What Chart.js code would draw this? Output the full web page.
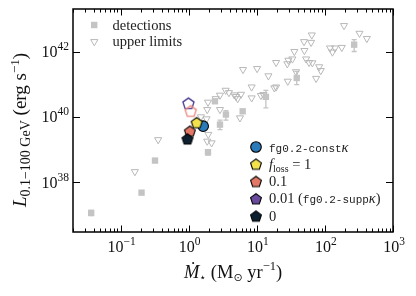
<!DOCTYPE html>
<html lang="en">
<head>
<meta charset="UTF-8">
<title>Gamma-ray luminosity vs star formation rate</title>
<script src="https://cdn.jsdelivr.net/npm/chart.js"></script>
<style>
  html, body { margin: 0; padding: 0; background: #fff; }
  canvas { display: block; }
</style>
</head>
<body>
<canvas id="lumChart" width="416" height="296"></canvas>
<script>
// observed galaxies, detections (luminosity with lower / upper error bar ends)
const detSfr    = [0.037, 0.203, 0.32, 1.92, 2.43, 2.88, 3.52, 6.2, 13.6, 38.6, 269];
const detLum    = [1.15e37, 4.8e37, 4.6e38, 8.3e38, 3.0e40, 5.8e39, 1.18e40, 1.48e40, 4.1e40, 1.55e41, 1.62e42];
const detLumLo  = [9.6e36, null, null, 6.8e38, null, 4.1e39, 7.9e39, null, 1.88e40, 9.7e40, 1.0e42];
const detLumHi  = [1.38e37, null, null, 9.6e38, null, 7.9e39, 1.56e40, null, 6.5e40, 2.46e41, 2.3e42];

// observed galaxies, upper limits
const ulSfr = [0.162, 0.356, 1.51, 1.94, 1.87, 2.17, 1.92, 1.87, 1.83, 2.49, 2.88, 2.88, 3.49, 3.9,
               4.67, 4.94, 5.24, 5.86, 5.66, 6.27, 8.4, 8.4, 10.1, 11.5, 12.5, 14.8, 18.1, 19.2,
               19.2, 28.1, 29.1, 33.3, 28.5, 35.6, 37.7, 49.4, 50, 62.7, 64.2, 53, 58.6, 65.5,
               74.3, 82.3, 87, 119, 129, 141, 177, 191, 322, 413];
const ulLum = [2.1e38, 2.0e39, 1.0e40, 2.9e39, 1.8e39, 1.6e39, 2.8e40, 1.67e40, 8.7e39, 3.6e40, 4.6e40, 1.67e40, 6.5e40, 5.5e40,
               4.7e40, 4.2e40, 3.6e40, 4.9e40, 9.3e39, 2.8e41, 8.2e40, 3.8e40, 3.0e41, 4.5e40, 4.8e40, 1.8e41, 7.7e40, 8.2e40,
               4.6e41, 4.2e41, 5.4e41, 5.9e41, 1.23e41, 1.0e42, 2.4e41, 2.0e42, 1.07e42, 1.9e42, 3.2e42, 5.9e41, 4.6e41, 4.5e41,
               1.5e41, 3.4e41, 2.6e41, 1.28e42, 9.6e41, 1.28e42, 1.33e42, 6.2e42, 3.6e42, 2.5e42];

// simulation runs (filled markers, plus open markers for two of them)
const runSfr  = [1.63, 1.31, 1.04, null, 0.96];
const runLum  = [5.2e39, 6.6e39, 3.6e39, null, 2.1e39];
const openSfr = [null, null, 1.07, 0.99, null];
const openLum = [null, null, 1.5e40, 2.6e40, null];

// axes
const xMin = 0.02, xMax = 1000, yMin = 3e36, yMax = 2e43;
const xTickExp = [-1, 0, 1, 2, 3];
const yTickExp = [38, 40, 42];

const runFill = ['#2b7bba', '#f3e24c', '#e37866', '#6a4a9c', '#0e2030'];
const runOpenEdge = [null, null, '#ec8a80', '#4a3f90', null];
const grey = '#c4c4c4';
const SERIF = '"Liberation Serif", "DejaVu Serif", serif';
const MONO = '"Liberation Mono", "DejaVu Sans Mono", monospace';

function pentagon(r, fill, stroke, lw) {
  const c = document.createElement('canvas');
  const s = Math.ceil(2 * (r + lw)) + 2;
  c.width = s; c.height = s;
  const g = c.getContext('2d');
  g.beginPath();
  for (let k = 0; k < 5; k++) {
    const a = -Math.PI / 2 + k * 2 * Math.PI / 5;
    const px = s / 2 + r * Math.cos(a), py = s / 2 + r * Math.sin(a) + 0.4;
    k ? g.lineTo(px, py) : g.moveTo(px, py);
  }
  g.closePath();
  if (fill) { g.fillStyle = fill; g.fill(); }
  g.lineWidth = lw; g.strokeStyle = stroke; g.stroke();
  return c;
}

const filledMarks = runFill.map((c, i) => i === 0 ? 'circle' : pentagon(5.7, c, '#000', 1.1));

const datasets = [];
runSfr.forEach((x, i) => {
  if (x === null) return;
  datasets.push({
    data: [{ x: x, y: runLum[i] }],
    pointStyle: filledMarks[i],
    pointRadius: 5.3,
    pointBackgroundColor: runFill[i],
    pointBorderColor: '#000',
    pointBorderWidth: 1.1,
    order: 10 - i
  });
});
openSfr.forEach((x, i) => {
  if (x === null) return;
  datasets.push({
    data: [{ x: x, y: openLum[i] }],
    pointStyle: pentagon(5.8, null, runOpenEdge[i], 1.4),
    pointRadius: 6,
    order: 12
  });
});
datasets.push({
  data: detSfr.map((x, i) => ({ x: x, y: detLum[i] })),
  pointStyle: 'rect',
  pointRadius: 4.5,
  pointBackgroundColor: grey,
  pointBorderColor: grey,
  pointBorderWidth: 0,
  order: 20
});
datasets.push({
  data: ulSfr.map((x, i) => ({ x: x, y: ulLum[i] })),
  pointStyle: 'triangle',
  pointRotation: 180,
  pointRadius: 4.1,
  pointBackgroundColor: 'rgba(255,255,255,0)',
  pointBorderColor: '#b8b8b8',
  pointBorderWidth: 1,
  order: 21
});

function richWidth(ctx, segs) {
  let w = 0;
  segs.forEach(s => { ctx.font = s.f; w += ctx.measureText(s.t).width; });
  return w;
}
function drawRich(ctx, segs, x, y) {
  segs.forEach(s => {
    ctx.font = s.f;
    ctx.fillText(s.t, x, y + (s.dy || 0));
    x += ctx.measureText(s.t).width;
  });
}
function powSegs(e) {
  const t = e < 0 ? '\u2212' + (-e) : String(e);
  return [{ t: '10', f: '16px ' + SERIF }, { t: t, f: '11.5px ' + SERIF, dy: -7 }];
}

const errorBars = {
  id: 'errorBars',
  beforeDatasetsDraw(chart) {
    const ctx = chart.ctx, xs = chart.scales.x, ys = chart.scales.y;
    ctx.save();
    ctx.strokeStyle = grey;
    ctx.lineWidth = 1.3;
    detSfr.forEach((v, i) => {
      if (detLumLo[i] === null) return;
      const px = xs.getPixelForValue(v);
      const lo = ys.getPixelForValue(detLumLo[i]), hi = ys.getPixelForValue(detLumHi[i]);
      ctx.beginPath();
      ctx.moveTo(px, lo); ctx.lineTo(px, hi);
      ctx.moveTo(px - 2.5, lo); ctx.lineTo(px + 2.5, lo);
      ctx.moveTo(px - 2.5, hi); ctx.lineTo(px + 2.5, hi);
      ctx.stroke();
    });
    ctx.restore();
  }
};

const decorations = {
  id: 'decorations',
  afterDraw(chart) {
    const ctx = chart.ctx, a = chart.chartArea, xs = chart.scales.x, ys = chart.scales.y;
    ctx.save();
    // frame
    ctx.strokeStyle = '#000';
    ctx.lineWidth = 1.5;
    ctx.strokeRect(a.left, a.top, a.right - a.left, a.bottom - a.top);

    // x ticks, major and minor, inward on bottom and top
    ctx.lineWidth = 1;
    ctx.beginPath();
    for (let d = Math.floor(Math.log10(xMin)); d <= Math.ceil(Math.log10(xMax)); d++) {
      for (let k = 1; k <= 9; k++) {
        const v = k * Math.pow(10, d);
        if (v < xMin * 0.999 || v > xMax * 1.001) continue;
        const px = Math.round(xs.getPixelForValue(v)) + 0.5;
        const len = k === 1 ? 6.5 : 3.5;
        ctx.moveTo(px, a.bottom); ctx.lineTo(px, a.bottom - len);
        ctx.moveTo(px, a.top); ctx.lineTo(px, a.top + len);
      }
    }
    yTickExp.forEach(e => {
      const py = Math.round(ys.getPixelForValue(Math.pow(10, e))) + 0.5;
      ctx.moveTo(a.left, py); ctx.lineTo(a.left + 7, py);
      ctx.moveTo(a.right, py); ctx.lineTo(a.right - 7, py);
    });
    ctx.stroke();

    // tick labels
    ctx.fillStyle = '#111';
    ctx.textBaseline = 'alphabetic';
    ctx.textAlign = 'left';
    xTickExp.forEach(e => {
      const segs = powSegs(e);
      const px = xs.getPixelForValue(Math.pow(10, e));
      drawRich(ctx, segs, px - richWidth(ctx, segs) / 2 + 1, 252);
    });
    yTickExp.forEach(e => {
      const segs = powSegs(e);
      const py = ys.getPixelForValue(Math.pow(10, e));
      drawRich(ctx, segs, 69 - richWidth(ctx, segs), py + 5.5);
    });

    // x title
    const xt = [
      { t: '\u1E40', f: 'italic 18.5px ' + SERIF },
      { t: '\u22C6', f: '11px "DejaVu Sans", sans-serif', dy: 3 },
      { t: ' (M', f: '18.5px ' + SERIF },
      { t: '\u2299', f: '11px "DejaVu Sans", sans-serif', dy: 3 },
      { t: ' yr', f: '18.5px ' + SERIF },
      { t: '\u22121', f: '12.5px ' + SERIF, dy: -7.5 },
      { t: ')', f: '18.5px ' + SERIF }
    ];
    drawRich(ctx, xt, 233 - richWidth(ctx, xt) / 2, 277.5);

    // y title
    const yt = [
      { t: 'L', f: 'italic 19px ' + SERIF },
      { t: '0.1\u2212100 GeV', f: '14px ' + SERIF, dy: 4 },
      { t: ' (erg s', f: '19px ' + SERIF },
      { t: '\u22121', f: '13px ' + SERIF, dy: -7.5 },
      { t: ')', f: '19px ' + SERIF }
    ];
    ctx.save();
    ctx.translate(26, 130);
    ctx.rotate(-Math.PI / 2);
    drawRich(ctx, yt, -richWidth(ctx, yt) / 2, 0);
    ctx.restore();

    // legend: observations
    ctx.fillStyle = grey;
    ctx.fillRect(91, 21.8, 6.4, 6.4);
    ctx.strokeStyle = '#b8b8b8';
    ctx.lineWidth = 1;
    ctx.beginPath();
    ctx.moveTo(94.3, 45.8); ctx.lineTo(94.3 - 3.6, 39.6); ctx.lineTo(94.3 + 3.6, 39.6); ctx.closePath();
    ctx.stroke();
    ctx.fillStyle = '#222';
    ctx.font = '14.5px ' + SERIF;
    ctx.fillText('detections', 112.5, 29.5);
    ctx.fillText('upper limits', 112.5, 46);

    // legend: simulations
    const rowY = [147, 164.3, 181.6, 198.9, 216.2];
    const mx = 256, tx = 269;
    rowY.forEach((y, i) => {
      if (i === 0) {
        ctx.beginPath();
        ctx.arc(mx, y, 5.3, 0, 2 * Math.PI);
        ctx.fillStyle = runFill[0]; ctx.fill();
        ctx.lineWidth = 1.1; ctx.strokeStyle = '#000'; ctx.stroke();
      } else {
        const m = filledMarks[i];
        ctx.drawImage(m, mx - m.width / 2, y - m.height / 2);
      }
    });
    ctx.fillStyle = '#222';
    const base = 4.5;
    drawRich(ctx, [{ t: 'fg0.2-const', f: '11px ' + MONO }, { t: '\u03BA', f: 'italic 14.5px ' + SERIF }], tx, rowY[0] + base);
    drawRich(ctx, [{ t: 'f', f: 'italic 14.5px ' + SERIF }, { t: 'loss', f: '10px ' + SERIF, dy: 3 },
                   { t: ' = 1', f: '14.5px ' + SERIF }], tx, rowY[1] + base);
    drawRich(ctx, [{ t: '0.1', f: '14.5px ' + SERIF }], tx, rowY[2] + base);
    drawRich(ctx, [{ t: '0.01 (', f: '14.5px ' + SERIF }, { t: 'fg0.2-supp', f: '11px ' + MONO },
                   { t: '\u03BA', f: 'italic 14.5px ' + SERIF }, { t: ')', f: '14.5px ' + SERIF }], tx, rowY[3] + base);
    drawRich(ctx, [{ t: '0', f: '14.5px ' + SERIF }], tx, rowY[4] + base);
    ctx.restore();
  }
};

new Chart(document.getElementById('lumChart').getContext('2d'), {
  type: 'scatter',
  data: { datasets: datasets },
  options: {
    responsive: false,
    animation: false,
    events: [],
    layout: { padding: { top: 9, right: 23, left: 0, bottom: 0 } },
    plugins: { legend: { display: false }, tooltip: { enabled: false } },
    scales: {
      x: {
        type: 'logarithmic', min: xMin, max: xMax,
        ticks: { display: false }, grid: { display: false }, border: { display: false },
        afterFit: s => { s.height = 64; }
      },
      y: {
        type: 'logarithmic', min: yMin, max: yMax,
        ticks: { display: false }, grid: { display: false }, border: { display: false },
        afterFit: s => { s.width = 73; }
      }
    }
  },
  plugins: [errorBars, decorations]
});
</script>
</body>
</html>
